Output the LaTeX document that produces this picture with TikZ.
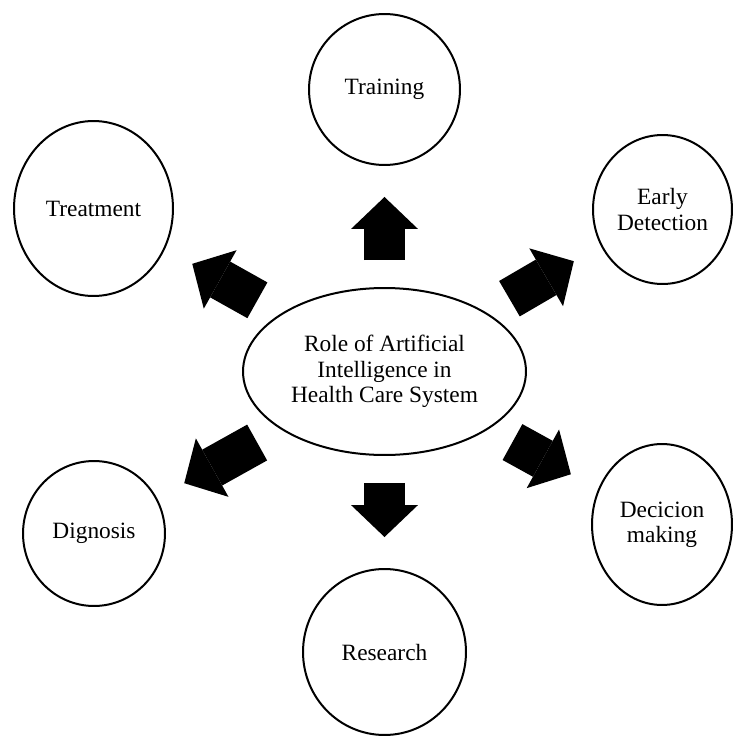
\documentclass[tikz,border=0pt]{standalone}
\usepackage{fontspec}
\setmainfont{Liberation Serif}
\usetikzlibrary{arrows.meta, shapes.geometric}

\begin{document}
\begin{tikzpicture}[
                x=0.02cm, y=-0.02cm,
                topic/.style={ellipse, draw=black, line width=0.04cm, inner sep=0pt, align=center, font=\fontsize{13.3}{14.4}\selectfont},
                block/.style={-{Triangle[width=1.34cm, length=0.64cm, line width=0pt]}, line width=0.82cm, shorten <=0.54cm, shorten >=0.62cm}
                ]
                \useasboundingbox (0,0) rectangle (733,737);

                % Nod central
                \node[topic, minimum width=5.66cm, minimum height=3.34cm] (ai) at (384.5,371.5) {Role of Artificial\\Intelligence in\\Health Care System};

                % Roluri - in jurul nodului central
                \node[topic, minimum width=3.02cm, minimum height=3.02cm] (training) at (384.5,89.5) {Training};
                \node[topic, minimum width=3.18cm, minimum height=3.5cm] (treatment) at (93.5,208.5) {Treatment};
                \node[topic, minimum width=2.78cm, minimum height=2.98cm] (early) at (662.5,209.5) {Early\\Detection};
                \node[topic, minimum width=2.84cm, minimum height=2.9cm] (dignosis) at (94,533.5) {Dignosis};
                \node[topic, minimum width=2.8cm, minimum height=3.22cm] (decision) at (662,524.5) {Decicion\\making};
                \node[topic, minimum width=3.26cm, minimum height=3.32cm] (research) at (384.5,652) {Research};

                % Sageti groase
                \draw[block] (ai) -- (training);
                \draw[block] (ai) -- (early);
                \draw[block] (ai) -- (decision);
                \draw[block] (ai) -- (research);
                \draw[block] (ai) -- (dignosis);
                \draw[block] (ai) -- (treatment);

\end{tikzpicture}
\end{document}
